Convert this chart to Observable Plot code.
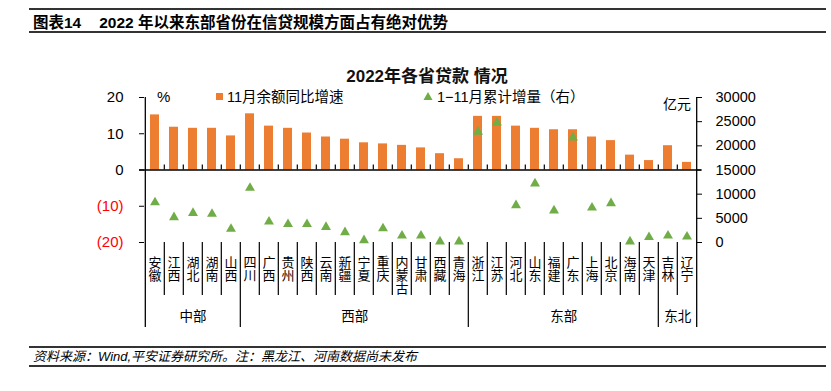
<!DOCTYPE html>
<html><head><meta charset="utf-8">
<script src="https://cdn.jsdelivr.net/npm/d3@7"></script>
<script src="https://cdn.jsdelivr.net/npm/@observablehq/plot@0.6"></script>
<style>
body{margin:0;background:#fff;}
#wrap{position:relative;width:831px;height:391px;overflow:hidden;font-family:"Liberation Sans","Noto Sans CJK SC",sans-serif;color:#000;}
.hline{position:absolute;left:29px;width:797px;height:1.6px;background:#333;}
.abs{position:absolute;white-space:nowrap;}
#chart{position:absolute;left:0;top:0;}
</style></head><body>
<div id="wrap">
  <div class="hline" style="top:8px"></div>
  <div class="abs" style="left:33px;top:13px;line-height:20px;font-size:15.5px;font-weight:bold;">图表14<span style="margin-left:18px">2022 年以来东部省份在信贷规模方面占有绝对优势</span></div>
  <div class="hline" style="top:31px"></div>
  <div class="abs" style="left:227px;width:400px;text-align:center;top:66px;line-height:22px;font-size:17px;font-weight:bold;color:#111;">2022年各省贷款 情况</div>
  <div class="abs" style="left:157px;top:87px;line-height:20px;font-size:15px;">%</div>
  <div class="abs" style="left:216px;top:93px;width:7px;height:7px;background:#ED7D31;"></div>
  <div class="abs" style="left:227px;top:87px;line-height:20px;font-size:14.5px;">11月余额同比增速</div>
  <svg class="abs" style="left:423px;top:91px;" width="10" height="10"><path d="M5,1 L9.5,9 L0.5,9 Z" fill="#70AD47"/></svg>
  <div class="abs" style="left:437px;top:87px;line-height:20px;font-size:14.5px;">1−11月累计增量（右）</div>
  <div class="abs" style="left:663px;top:94px;line-height:20px;font-size:14px;">亿元</div>
  <div class="hline" style="top:346px"></div>
  <div class="abs" style="left:33px;top:347px;line-height:19px;font-size:13px;font-style:italic;">资料来源：Wind,平安证券研究所。注：黑龙江、河南数据尚未发布</div>
  <div class="hline" style="top:365px"></div>
  <div id="chart"></div>
</div>
<script>
const provinces = ["安徽","江西","湖北","湖南","山西","四川","广西","贵州","陕西","云南","新疆","宁夏","重庆","内蒙古","甘肃","西藏","青海","浙江","江苏","河北","山东","福建","广东","上海","北京","海南","天津","吉林","辽宁"];
const growth = [15.2,11.8,11.5,11.5,9.4,15.5,12.1,11.5,10.2,9.1,8.5,7.5,7.2,6.8,6.1,4.5,3.1,14.8,14.8,12.1,11.5,11.1,11.1,9.1,8.1,4.1,2.6,6.7,2.1];
const increase = [8300,5200,6100,5900,2800,11300,4300,3800,3800,3200,2100,450,2900,1400,1400,200,200,22900,24800,7700,12200,6600,21700,7200,8100,200,1100,1400,1200];
const groupNames = ["中部","西部","东部","东北"];
const groupFirst = ["安徽","四川","浙江","吉林"];
const groupLast = ["山西","青海","天津","辽宁"];
const leftTicksPos = [20,10,0];
const leftTicksNeg = [-10,-20];
const rightTicks = [0,5000,10000,15000,20000,25000,30000];

const W = 831, H = 391, mL = 139, mR = 130, mT = 97, mB = 149;
const step = (W - mL - mR) / provinces.length;
const pxPerUnit = (H - mT - mB) / 40;
const below = px => -20 - px / pxPerUnit;
const toLeft = v => -20 + v * 40 / 30000;
const fromLeft = y => Math.round((y + 20) * 30000 / 40);

const data = provinces.map((p, i) => ({province: p, growth: growth[i], increase: increase[i]}));
const inner = provinces.slice(1);
const groupStarts = groupFirst.slice(1);

const groupMarks = groupNames.map((g, k) => {
  const s = provinces.indexOf(groupFirst[k]);
  const e = provinces.indexOf(groupLast[k]) + 1;
  const kk = Math.floor((s + e - 1) / 2);
  const dx = ((s + e) / 2 - (kk + 0.5)) * step;
  return Plot.text([g], {x: () => provinces[kk], y: below(74), text: d => d, dx, fontSize: 13.5, fontFamily: "Noto Sans CJK SC", fill: "#000"});
});

const chart = Plot.plot({
  width: W, height: H,
  marginLeft: mL, marginRight: mR, marginTop: mT, marginBottom: mB,
  style: {background: "transparent", fontFamily: "Liberation Sans, Noto Sans CJK SC", color: "#000", overflow: "visible"},
  x: {type: "band", domain: provinces, paddingInner: 0.53, paddingOuter: 0.265, axis: null},
  y: {domain: [-20, 20], axis: null},
  marks: [
    Plot.barY(data, {x: "province", y: "growth", fill: "#ED7D31"}),
    Plot.ruleY([0], {stroke: "#000", strokeWidth: 1.3}),
    Plot.ruleX(inner, {x: d => d, dx: -step / 2, y1: 0, y2: 5 / pxPerUnit, stroke: "#000", strokeWidth: 1.2}),
    Plot.dot(data, {x: "province", y: d => toLeft(d.increase), symbol: "triangle", fill: "#70AD47", r: 3.7}),
    Plot.ruleX(inner, {x: d => d, dx: -step / 2, y1: -20, y2: below(53), stroke: "#000", strokeWidth: 1.2}),
    Plot.ruleX(groupStarts, {x: d => d, dx: -step / 2, y1: below(53), y2: below(85), stroke: "#000", strokeWidth: 1.2}),
    Plot.ruleX([provinces[0]], {x: d => d, dx: -step / 2, y1: 20, y2: below(85), stroke: "#000", strokeWidth: 1.3}),
    Plot.ruleX([provinces[provinces.length - 1]], {x: d => d, dx: step / 2, y1: 20, y2: below(85), stroke: "#000", strokeWidth: 1.3}),
    Plot.text(provinces, {x: d => d, y: -20, text: d => d, textAnchor: "start", dy: 9, fontSize: 13, fontFamily: "Noto Sans CJK SC", fill: "#000"}),
    ...groupMarks,
    Plot.axisY({anchor: "left", label: null, ticks: leftTicksPos, tickSize: -5, tickPadding: 21, fontSize: 15, tickFormat: d => String(d)}),
    Plot.axisY({anchor: "left", label: null, ticks: leftTicksNeg, tickSize: -5, tickPadding: 21, fontSize: 15, fill: "#FF0000", stroke: "#000", tickFormat: d => `(${-d})`}),
    Plot.axisY({anchor: "right", label: null, ticks: rightTicks.map(toLeft), tickSize: -5, tickPadding: 19, fontSize: 14.5, tickFormat: d => String(fromLeft(d))})
  ]
});
// stack category names vertically, one character per line, centred on each band
d3.select(chart).selectAll("text")
  .filter(function () { return provinces.includes(this.textContent); })
  .attr("dy", null)
  .attr("dominant-baseline", "central")
  .style("writing-mode", "vertical-rl")
  .style("text-orientation", "upright");
document.getElementById("chart").appendChild(chart);
</script>
</body></html>
